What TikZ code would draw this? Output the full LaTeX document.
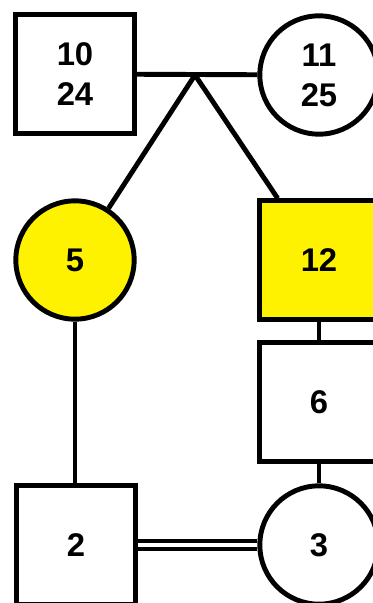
\documentclass[tikz,border=0pt]{standalone}
\usepackage{fontspec}
\setmainfont{Liberation Sans}
\usetikzlibrary{positioning}
\begin{document}
\begin{tikzpicture}[x=0.03cm,y=-0.03cm,line width=4.2pt,
    male/.style={draw,minimum size=3.55cm,inner sep=0pt,align=center,
        font=\bfseries\fontsize{28}{34}\selectfont},
    female/.style={male,circle},
    affected/.style={fill=yellow}]
    \clip (0,0) rectangle (373,603);
    % grandparents
    \node [male] (n10) at (75,74) {10\\24};
    \node [female] (n11) at (319,75) {11\\25};
    \coordinate (mate) at (195,75);
    \draw (n10)--(n11);
    % children
    \node [female,affected] (n5) at (75,260) {5};
    \node [male,affected] (n12) at (319,260) {12};
    \draw (mate)--(n5) (mate)--(n12);
    \node [male] (n6) at (319,402) {6};
    \node [female] (n3) at (319,545) {3};
    \node [male] (n2) at (76,545) {2};
    \draw (n12)--(n6) (n6)--(n3);
    \draw (n5.south)--(n5.south|-n2.north);
    %\draw (n5)--(n2);
    \draw [line width=3.4pt,double,double distance=0.13cm](n2)--(n3);
\end{tikzpicture}
\end{document}
